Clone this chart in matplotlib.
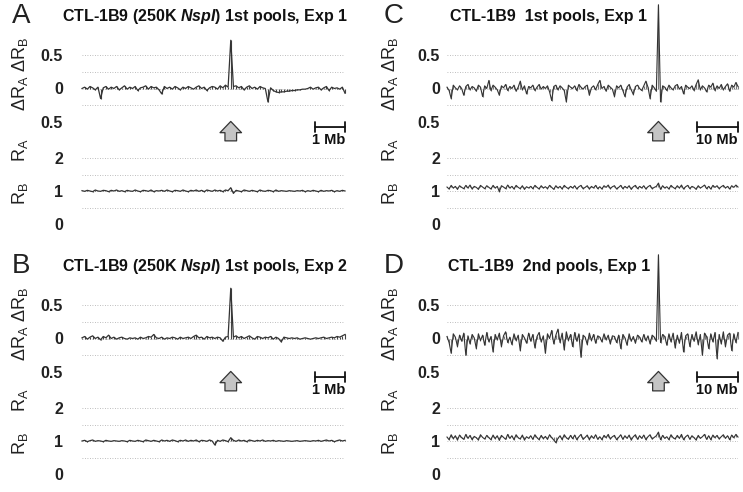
import matplotlib
matplotlib.use("Agg")
import matplotlib.pyplot as plt
import numpy as np

plt.rcParams['font.family'] = ['Liberation Sans', 'DejaVu Sans']
plt.rcParams['mathtext.fontset'] = 'custom'
plt.rcParams['mathtext.rm'] = 'Liberation Sans'
plt.rcParams['mathtext.it'] = 'Liberation Sans:italic:bold'
plt.rcParams['mathtext.bf'] = 'Liberation Sans:bold'

# ---- data ----
up_ticks = [0.5, 0.0, -0.5]
up_tick_labels = ['0.5', '0', '0.5']
up_grid = [0.5, 0.25, 0.0, -0.25, -0.5]
low_ticks = [2, 1, 0]
low_tick_labels = ['2', '1', '0']
low_grid = [2, 1.5, 1, 0.5, 0]

titles = {
    'A': r'CTL-1B9 (250K $\it{NspI}$) 1st pools, Exp 1',
    'B': r'CTL-1B9 (250K $\it{NspI}$) 1st pools, Exp 2',
    'C': 'CTL-1B9  1st pools, Exp 1',
    'D': 'CTL-1B9  2nd pools, Exp 1',
}
scale_labels = {'A': '1 Mb', 'B': '1 Mb', 'C': '10 Mb', 'D': '10 Mb'}
spike_index = {'A': 56, 'B': 56, 'C': 101, 'D': 101}

A_up = [0.00, 0.02, -0.01, 0.03, 0.01, -0.02, 0.02, -0.15, 0.01, 0.03,
        -0.01, 0.02, 0.00, 0.03, -0.02, 0.01, 0.04, -0.01, 0.02, 0.00,
        0.03, -0.03, 0.01, 0.02, 0.04, -0.01, 0.03, 0.01, 0.02, -0.02,
        -0.08, 0.03, 0.00, 0.02, -0.01, 0.03, 0.01, -0.02, 0.02, 0.00,
        0.03, 0.01, -0.01, 0.02, 0.04, 0.00, 0.02, -0.03, 0.01, 0.03,
        0.02, -0.01, 0.04, 0.01, 0.05, 0.02, 0.72, 0.03, 0.04, 0.01,
        0.03, -0.02, 0.02, 0.04, 0.00, 0.02, -0.01, 0.03, 0.01, 0.00,
        -0.20, 0.01, -0.03, -0.05, -0.06, -0.05, -0.05, -0.04, -0.04, -0.03,
        -0.03, -0.02, -0.02, -0.01, -0.01, 0.00, 0.02, -0.01, 0.01, 0.02,
        -0.02, 0.01, 0.03, -0.03, 0.02, 0.00, 0.01, -0.01, 0.02, -0.07]
A_low = [1.01, 0.99, 1.02, 1.00, 0.98, 1.03, 1.00, 0.99, 1.02, 1.01,
         0.98, 1.02, 1.00, 1.03, 0.99, 1.01, 0.98, 1.02, 1.00, 0.99,
         1.03, 1.00, 0.98, 1.02, 1.01, 0.99, 1.03, 0.98, 1.01, 1.00,
         1.02, 0.99, 1.03, 1.00, 0.98, 1.02, 1.01, 0.99, 1.03, 1.00,
         0.98, 1.02, 1.00, 1.03, 0.99, 1.02, 0.98, 1.03, 1.01, 0.99,
         1.03, 1.00, 1.02, 0.98, 1.03, 1.01, 1.10, 0.93, 1.02, 1.00,
         0.98, 1.03, 1.01, 0.99, 1.02, 1.00, 0.98, 1.03, 1.00, 0.99,
         1.02, 1.01, 0.98, 1.03, 0.99, 1.01, 1.00, 0.99, 1.01, 1.00,
         0.99, 1.01, 1.00, 1.02, 0.98, 1.01, 0.99, 1.02, 1.00, 0.98,
         1.02, 0.99, 1.01, 1.00, 1.02, 0.98, 1.01, 0.99, 1.02, 1.00]

B_up = [0.01, 0.03, -0.01, 0.02, 0.04, 0.00, 0.02, -0.02, 0.03, 0.01,
        0.05, 0.00, 0.02, -0.01, 0.01, 0.02, 0.00, -0.01, 0.01, 0.00,
        0.01, -0.01, 0.02, 0.00, 0.01, 0.03, 0.02, 0.06, 0.01, 0.00,
        0.02, -0.01, 0.01, 0.00, 0.02, 0.01, -0.01, 0.02, 0.00, 0.01,
        0.02, 0.00, 0.03, 0.05, 0.01, 0.02, -0.01, 0.03, 0.01, 0.02,
        0.00, 0.02, 0.01, -0.04, 0.02, 0.03, 0.75, 0.02, 0.04, 0.01,
        0.03, 0.00, 0.02, 0.04, 0.01, -0.01, 0.03, 0.02, 0.00, 0.02,
        0.01, 0.03, -0.01, 0.02, 0.00, -0.05, 0.02, 0.01, 0.00, 0.01,
        0.00, 0.01, -0.01, 0.00, 0.01, 0.00, -0.01, 0.00, 0.01, 0.00,
        0.01, 0.02, 0.00, 0.01, 0.02, 0.01, 0.03, 0.02, 0.04, 0.06]
B_low = [1.00, 1.02, 0.98, 1.01, 1.03, 0.99, 1.01, 1.00, 0.98, 1.02,
         1.00, 0.99, 1.01, 1.00, 0.99, 1.01, 1.00, 0.98, 1.02, 1.00,
         0.99, 1.02, 1.00, 0.98, 1.03, 1.01, 0.99, 1.02, 1.00, 0.98,
         1.03, 1.00, 1.02, 0.99, 1.03, 1.01, 0.98, 1.02, 1.00, 1.03,
         0.99, 1.02, 1.00, 1.03, 0.98, 1.02, 1.01, 0.99, 1.03, 1.00,
         0.88, 1.02, 0.99, 1.03, 1.01, 0.98, 1.10, 1.02, 0.99, 1.03,
         1.00, 1.02, 0.98, 1.03, 1.01, 0.99, 1.02, 1.00, 1.03, 0.99,
         1.01, 1.00, 1.02, 0.99, 1.01, 1.00, 0.99, 1.01, 1.00, 0.99,
         1.00, 1.01, 0.99, 1.00, 1.01, 1.00, 0.99, 1.01, 1.00, 1.02,
         0.99, 1.01, 1.03, 1.00, 1.02, 0.98, 1.01, 1.03, 1.00, 1.02]

C_up = [0.02, -0.03, -0.15, 0.05, 0.01, -0.02, 0.04, 0.00, -0.10, 0.03,
        0.06, -0.02, 0.03, 0.01, -0.04, 0.05, 0.02, -0.12, 0.04, 0.00,
        0.12, -0.03, 0.05, 0.02, -0.02, -0.10, 0.04, 0.01, 0.06, -0.03,
        0.03, 0.00, 0.05, -0.04, 0.02, 0.11, -0.02, 0.04, -0.08, 0.03,
        0.01, 0.05, -0.03, 0.02, 0.06, -0.01, 0.03, 0.00, 0.04, -0.05,
        -0.18, 0.03, 0.05, -0.02, 0.04, 0.01, -0.03, -0.20, 0.05, 0.02,
        0.00, 0.04, -0.03, 0.06, 0.02, -0.01, 0.03, 0.05, -0.10, 0.01,
        0.04, -0.02, 0.06, 0.12, 0.00, 0.03, -0.04, 0.05, 0.02, -0.01,
        -0.12, 0.04, 0.01, 0.05, -0.03, -0.12, 0.02, 0.06, -0.02, -0.09,
        0.03, 0.05, 0.00, -0.03, 0.04, 0.11, 0.02, -0.15, 0.05, 0.01,
        -0.04, 1.25, -0.20, 0.04, 0.02, -0.03, 0.05, 0.01, -0.02, 0.04,
        0.06, -0.01, 0.03, -0.08, 0.05, 0.02, 0.00, 0.04, -0.03, 0.06,
        0.13, -0.02, 0.04, 0.01, -0.05, 0.05, 0.02, 0.08, -0.03, 0.04,
        0.00, 0.06, -0.02, 0.03, 0.07, -0.04, 0.05, 0.02, 0.09, 0.03]
C_low = [1.12, 1.06, 1.17, 1.09, 1.14, 1.05, 1.16, 1.11, 1.07, 1.17,
         1.09, 1.18, 1.06, 1.14, 1.11, 1.05, 1.17, 1.12, 1.07, 1.16,
         1.11, 1.06, 1.17, 1.09, 1.14, 0.98, 1.16, 1.12, 1.07, 1.18,
         1.09, 1.14, 1.06, 1.17, 1.11, 1.07, 1.16, 1.05, 1.13, 1.09,
         1.14, 1.07, 1.17, 1.11, 1.06, 1.16, 1.09, 1.13, 1.07, 1.17,
         1.11, 1.05, 1.16, 1.09, 1.14, 1.06, 1.17, 1.11, 1.07, 1.14,
         1.09, 1.16, 1.06, 1.13, 1.17, 1.07, 1.11, 1.16, 1.06, 1.14,
         1.09, 1.17, 1.07, 1.13, 1.06, 1.16, 1.11, 1.18, 1.07, 1.13,
         1.16, 1.06, 1.11, 1.17, 1.07, 1.14, 1.09, 1.16, 1.05, 1.13,
         1.17, 1.07, 1.14, 1.09, 1.16, 1.06, 1.13, 1.17, 1.07, 1.11,
         1.14, 1.24, 1.05, 1.16, 1.09, 1.13, 1.06, 1.17, 1.11, 1.07,
         1.16, 1.09, 1.18, 1.06, 1.13, 1.17, 1.07, 1.14, 1.11, 1.05,
         1.16, 1.09, 1.13, 1.18, 1.07, 1.14, 1.06, 1.17, 1.11, 1.16,
         1.07, 1.13, 1.17, 1.09, 1.14, 1.06, 1.16, 1.11, 1.18, 1.12]

D_up = [0.03, -0.06, -0.22, 0.07, 0.02, -0.12, 0.05, -0.04, 0.08, -0.25,
        0.04, -0.08, 0.06, 0.01, -0.15, 0.07, -0.03, 0.05, -0.10, 0.09,
        -0.05, 0.03, -0.20, 0.06, -0.02, 0.08, -0.12, 0.04, 0.10, -0.06,
        0.02, -0.09, 0.07, -0.03, 0.05, -0.18, 0.06, 0.01, -0.07, 0.08,
        -0.04, 0.06, -0.14, 0.03, 0.09, -0.05, 0.04, -0.22, 0.07, 0.00,
        0.12, -0.08, 0.05, 0.14, -0.06, 0.08, -0.17, 0.10, -0.03, 0.06,
        -0.12, 0.09, -0.04, 0.07, -0.28, 0.05, 0.02, -0.09, 0.08, -0.03,
        0.06, -0.07, 0.04, 0.02, -0.05, 0.07, -0.02, 0.05, -0.08, 0.04,
        0.03, -0.06, 0.05, -0.15, 0.06, 0.01, -0.10, 0.07, -0.04, 0.03,
        -0.07, 0.05, 0.02, -0.05, 0.06, -0.03, 0.04, -0.08, 0.05, 0.02,
        -0.04, 1.25, -0.06, 0.06, 0.03, -0.10, 0.07, -0.05, 0.08, -0.14,
        0.05, -0.07, 0.09, -0.20, 0.04, 0.07, -0.12, 0.06, -0.04, 0.10,
        -0.09, 0.06, -0.25, 0.08, 0.03, -0.15, 0.07, -0.05, 0.09, -0.30,
        0.06, -0.08, 0.10, -0.12, 0.05, 0.08, -0.18, 0.07, -0.06, 0.09]
D_low = [1.12, 1.04, 1.19, 1.07, 1.16, 1.03, 1.18, 1.10, 1.05, 1.20,
         1.08, 1.17, 1.04, 1.14, 1.10, 1.03, 1.19, 1.11, 1.06, 1.17,
         1.10, 1.04, 1.18, 1.07, 1.16, 1.02, 1.17, 1.11, 1.05, 1.20,
         1.08, 1.16, 1.04, 1.19, 1.10, 1.06, 1.18, 1.03, 1.13, 1.08,
         1.16, 1.05, 1.19, 1.10, 1.04, 1.17, 1.07, 1.14, 1.05, 1.19,
         1.10, 1.03, 0.95, 1.08, 1.16, 1.04, 1.19, 1.10, 1.05, 1.17,
         1.07, 1.18, 1.04, 1.13, 1.20, 1.05, 1.11, 1.18, 1.04, 1.16,
         1.08, 1.19, 1.05, 1.13, 1.04, 1.17, 1.10, 1.20, 1.06, 1.13,
         1.17, 1.04, 1.11, 1.19, 1.05, 1.16, 1.08, 1.18, 1.03, 1.13,
         1.19, 1.05, 1.16, 1.08, 1.18, 1.04, 1.13, 1.19, 1.06, 1.11,
         1.16, 1.27, 1.04, 1.17, 1.08, 1.13, 1.04, 1.19, 1.10, 1.06,
         1.17, 1.08, 1.20, 1.04, 1.13, 1.18, 1.05, 1.16, 1.10, 1.03,
         1.17, 1.08, 1.13, 1.20, 1.05, 1.16, 1.04, 1.18, 1.10, 1.17,
         1.06, 1.13, 1.19, 1.08, 1.16, 1.04, 1.18, 1.10, 1.20, 1.12]

traces = {'A': (A_up, A_low), 'B': (B_up, B_low), 'C': (C_up, C_low), 'D': (D_up, D_low)}

# ---- layout (pixels) ----
W, H = 743, 492
fig = plt.figure(figsize=(W / 100, H / 100), dpi=100)


def rect(x0, y0, x1, y1):
    return [x0 / W, 1 - y1 / H, (x1 - x0) / W, (y1 - y0) / H]


def style_axis(ax, ticks, labels, pad):
    ax.set_yticks(ticks, labels)
    ax.set_xticks([])
    ax.tick_params(axis='y', length=0, pad=pad * 0.72, labelsize=11.5, labelcolor='#222')
    for lbl in ax.get_yticklabels():
        lbl.set_fontweight('bold')
    for s in ax.spines.values():
        s.set_visible(False)
    ax.patch.set_alpha(0)


def draw_trace(ax, values, base, dense):
    x = np.arange(len(values))
    # each probe as a thin bar from the baseline, joined by the trace line
    ax.vlines(x, base, values, color='#7a7a7a' if dense else '#444444',
              lw=0.8, clip_on=False)
    ax.plot(x, values, color='#333333', lw=0.8 if dense else 0.9, clip_on=False)
    ax.set_xlim(0, len(values) - 1)


# name: (plot left, plot right, vertical offset, tick pad px, label x, letter x, title centre, dense)
panels = {
    'A': (82, 345, 0, 19, 20, 12, 205, False),
    'B': (82, 345, 250, 19, 20, 12, 205, False),
    'C': (447, 738, 0, 7, 390, 384, 549, True),
    'D': (447, 738, 250, 7, 390, 384, 549, True),
}

for name, (x0, x1, dy, pad, lab_x, let_x, tc, dense) in panels.items():
    up, low = traces[name]

    # upper: delta R
    ax = fig.add_axes(rect(x0, 55 + dy, x1, 122 + dy))
    for g in up_grid:
        ax.axhline(g, color='#a8a8a8', lw=0.6, ls=(0, (1, 2)), zorder=0)
    draw_trace(ax, up, 0.0, dense)
    ax.set_ylim(-0.5, 0.5)
    style_axis(ax, up_ticks, up_tick_labels, pad)

    # arrow under the spike
    sx = spike_index[name]
    ax.annotate('', xy=(sx, -0.45), xytext=(0, -18), textcoords='offset points',
                annotation_clip=False,
                arrowprops=dict(arrowstyle='simple,head_length=0.6,head_width=1.15,tail_width=0.62',
                                mutation_scale=13.5, fc='#c4c4c4', ec='#333333', lw=0.9))
    # scale bar
    bar_left = 0.886 if not dense else 0.86
    ax.annotate('', xy=(bar_left, -0.075), xytext=(1.0, -0.075), xycoords='axes fraction',
                arrowprops=dict(arrowstyle='|-|,widthA=0.35,widthB=0.35', color='#111', lw=1.3,
                                shrinkA=0, shrinkB=0))
    ax.text(1.0, -0.27, scale_labels[name], transform=ax.transAxes, ha='right', va='center',
            fontsize=10.5, fontweight='bold', color='#111')

    # lower: R
    ax2 = fig.add_axes(rect(x0, 158 + dy, x1, 224 + dy))
    for g in low_grid:
        ax2.axhline(g, color='#a8a8a8', lw=0.6, ls=(0, (1, 2)), zorder=0)
    draw_trace(ax2, low, 1.11 if dense else 1.0, dense)
    ax2.set_ylim(0, 2)
    style_axis(ax2, low_ticks, low_tick_labels, pad)

    # panel letter and title
    fig.text(let_x / W, 1 - (16 + dy) / H, name, fontsize=20, ha='left', va='center', color='#222')
    fig.text(tc / W, 1 - (16 + dy) / H, titles[name],
             fontsize=11.5, fontweight='bold', ha='center', va='center', color='#111')

    # y labels
    fig.text(lab_x / W, 1 - (74 + dy) / H, r'$\mathrm{\Delta R_A\ \Delta R_B}$', rotation=90,
             fontsize=13, ha='center', va='center', color='#222')
    fig.text(lab_x / W, 1 - (150 + dy) / H, r'$\mathrm{R_A}$', rotation=90,
             fontsize=13, ha='center', va='center', color='#222')
    fig.text(lab_x / W, 1 - (194 + dy) / H, r'$\mathrm{R_B}$', rotation=90,
             fontsize=13, ha='center', va='center', color='#222')

fig.savefig('out.png', dpi=100)
